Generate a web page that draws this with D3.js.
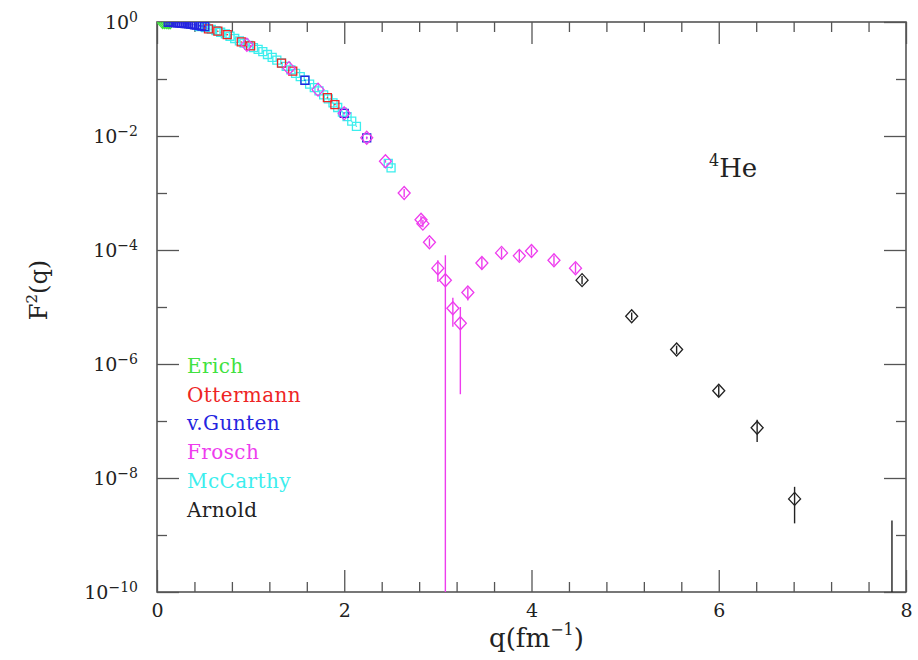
<!DOCTYPE html>
<html>
<head>
<meta charset="utf-8">
<script src="https://cdn.jsdelivr.net/npm/d3@7"></script>
<style>
  body { margin: 0; background: #fff; }
  #chart { width: 918px; height: 660px; }
</style>
</head>
<body>
<div id="chart"></div>
<script>
// q in fm^-1, F^2(q), and error limits
const erichQ  = [0.06, 0.08, 0.10, 0.12, 0.14];
const erichF2 = [1.0, 0.998, 0.995, 0.992, 0.988];

const ottermannQ  = [0.55, 0.65, 0.75, 0.90, 1.00, 1.33, 1.45, 1.82, 1.90];
const ottermannF2 = [0.76, 0.69, 0.60, 0.447, 0.38, 0.19, 0.138, 0.047, 0.0355];

const gunthenQ  = [0.12, 0.14, 0.16, 0.18, 0.20, 0.22, 0.24, 0.26, 0.28, 0.30, 0.32, 0.34, 0.36, 0.38, 0.40, 0.42, 0.45, 0.48, 0.51, 1.58, 2.00, 2.24];
const gunthenF2 = [0.99, 0.99, 0.985, 0.98, 0.975, 0.97, 0.965, 0.96, 0.95, 0.94, 0.935, 0.925, 0.915, 0.905, 0.895, 0.885, 0.865, 0.85, 0.83, 0.095, 0.025, 0.0093];

const froschQ  = [0.96, 1.41, 1.72, 2.00, 2.24, 2.44, 2.64, 2.82, 2.84, 2.91, 3.00, 3.08, 3.16, 3.24, 3.32, 3.47, 3.68, 3.87, 4.00, 4.24, 4.47];
const froschF2 = [0.40, 0.155, 0.065, 0.025, 0.0093, 0.0036, 1.0e-3, 3.4e-4, 2.9e-4, 1.37e-4, 4.8e-5, 2.95e-5, 9.5e-6, 5.2e-6, 1.8e-5, 5.9e-5, 8.9e-5, 7.9e-5, 9.6e-5, 6.6e-5, 4.8e-5];
const froschLo = [0.38, 0.147, 0.062, 0.0238, 0.0088, 0.0034, 0.85e-3, 2.9e-4, 2.5e-4, 1.15e-4, 2.75e-5, 1e-12, 4.5e-6, 2.95e-7, 1.3e-5, 4.6e-5, 7.3e-5, 6.4e-5, 8.0e-5, 5.4e-5, 3.9e-5];
const froschHi = [0.42, 0.163, 0.068, 0.0262, 0.0098, 0.0038, 1.18e-3, 4.0e-4, 3.4e-4, 1.6e-4, 6.6e-5, 8.1e-5, 1.45e-5, 1.0e-5, 2.2e-5, 7.4e-5, 1.08e-4, 9.6e-5, 1.15e-4, 8.0e-5, 5.9e-5];

const mccarthyQ  = [0.45, 0.52, 0.58, 0.63, 0.68, 0.73, 0.78, 0.83, 0.88, 0.93, 0.98, 1.03, 1.08, 1.13, 1.18, 1.23, 1.28, 1.33, 1.38, 1.43, 1.48, 1.53, 1.58, 1.63, 1.68, 1.73, 1.78, 1.83, 1.88, 1.93, 1.98, 2.03, 2.08, 2.13, 2.47, 2.50];
const mccarthyF2 = [0.832, 0.794, 0.741, 0.708, 0.661, 0.617, 0.562, 0.513, 0.468, 0.427, 0.389, 0.355, 0.331, 0.302, 0.269, 0.240, 0.214, 0.191, 0.166, 0.145, 0.126, 0.110, 0.0955, 0.0813, 0.0708, 0.0617, 0.0525, 0.0447, 0.0380, 0.0316, 0.0263, 0.0219, 0.0182, 0.0148, 0.00331, 0.00275];

const arnoldQ  = [4.54, 5.07, 5.55, 6.00, 6.41, 6.81, 7.85];
const arnoldF2 = [2.96e-5, 6.9e-6, 1.8e-6, 3.4e-7, 7.6e-8, 4.3e-9, 1e-12];
const arnoldLo = [2.5e-5, 5.9e-6, 1.5e-6, 2.7e-7, 4.3e-8, 1.6e-9, 1e-12];
const arnoldHi = [3.5e-5, 8.0e-6, 2.1e-6, 4.2e-7, 1.05e-7, 7.0e-9, 1.8e-9];

const seriesNames = ["Erich", "Ottermann", "v.Gunten", "Frosch", "McCarthy", "Arnold"];
const seriesColors = ["#3fe23f", "#ee2424", "#2424e0", "#ee3cee", "#3ceeee", "#222222"];

const xMajorTicks = [0, 2, 4, 6, 8];
const yMajorTicks = [1e0, 1e-2, 1e-4, 1e-6, 1e-8, 1e-10];
const yMinorTicks = [1e-1, 1e-3, 1e-5, 1e-7, 1e-9];

const serif = "'DejaVu Serif', serif";

class FormFactorPlot {
    constructor(parentElement) {
        this.parentElement = parentElement;
        this.render();
    }

    makeSeries(qs, f2s, lo, hi) {
        return qs.map((q, i) => ({q: q, f2: f2s[i], lo: lo ? lo[i] : null, hi: hi ? hi[i] : null}));
    }

    render() {
        let vis = this;

        vis.margin = {top: 22, right: 12, bottom: 68, left: 157};
        vis.width = 918 - vis.margin.left - vis.margin.right;
        vis.height = 660 - vis.margin.top - vis.margin.bottom;

        vis.svg = d3.select("#" + vis.parentElement).append("svg")
            .attr("width", 918)
            .attr("height", 660)
            .append("g")
            .attr("transform", `translate(${vis.margin.left}, ${vis.margin.top})`);

        vis.x = d3.scaleLinear().domain([0, 8]).range([0, vis.width]);
        vis.y = d3.scaleLog().domain([1e-10, 1]).range([vis.height, 0]);

        vis.svg.append("clipPath").attr("id", "plot-clip")
            .append("rect").attr("width", vis.width).attr("height", vis.height);

        // minor x ticks every 0.4
        let xMinor = d3.range(0, 8.01, 0.4).map(d => +d.toFixed(1)).filter(d => !xMajorTicks.includes(d));

        let frameColor = "#555";

        let addAxis = (axis, transform, cls) => {
            let g = vis.svg.append("g").attr("class", "axis " + cls)
                .attr("transform", transform)
                .call(axis);
            g.select(".domain").remove();
            g.selectAll(".tick line").attr("stroke", frameColor).attr("stroke-width", 1.3);
            g.selectAll(".tick text")
                .style("font-family", serif)
                .style("font-size", "19px")
                .attr("fill", "#222");
            return g;
        };

        // bottom
        addAxis(d3.axisBottom(vis.x).tickValues(xMajorTicks).tickSize(-22).tickPadding(12).tickFormat(d3.format("d")),
            `translate(0, ${vis.height})`, "x-axis");
        addAxis(d3.axisBottom(vis.x).tickValues(xMinor).tickSize(-10).tickFormat(""),
            `translate(0, ${vis.height})`, "x-minor");
        // top
        addAxis(d3.axisTop(vis.x).tickValues(xMajorTicks).tickSize(-22).tickFormat(""), "translate(0,0)", "x-top");
        addAxis(d3.axisTop(vis.x).tickValues(xMinor).tickSize(-10).tickFormat(""), "translate(0,0)", "x-top-minor");

        // left
        let yg = addAxis(d3.axisLeft(vis.y).tickValues(yMajorTicks).tickSize(-22).tickPadding(19).tickFormat(""),
            "translate(0,0)", "y-axis");
        yg.selectAll(".tick text").each(function(d) {
            let t = d3.select(this);
            t.text("10");
            let e = Math.round(Math.log10(d));
            t.append("tspan")
                .attr("dy", "-0.5em")
                .style("font-size", "14px")
                .text(e === 0 ? "0" : "\u2212" + Math.abs(e));
        });
        addAxis(d3.axisLeft(vis.y).tickValues(yMinorTicks).tickSize(-10).tickFormat(""), "translate(0,0)", "y-minor");
        // right
        addAxis(d3.axisRight(vis.y).tickValues(yMajorTicks).tickSize(-22).tickFormat(""), `translate(${vis.width},0)`, "y-right");
        addAxis(d3.axisRight(vis.y).tickValues(yMinorTicks).tickSize(-10).tickFormat(""), `translate(${vis.width},0)`, "y-right-minor");

        vis.svg.append("rect")
            .attr("width", vis.width)
            .attr("height", vis.height)
            .attr("fill", "none")
            .attr("stroke", frameColor)
            .attr("stroke-width", 1.6);

        let plot = vis.svg.append("g").attr("clip-path", "url(#plot-clip)");

        let allSeries = [
            {name: "McCarthy", shape: "square", data: vis.makeSeries(mccarthyQ, mccarthyF2)},
            {name: "Ottermann", shape: "square", data: vis.makeSeries(ottermannQ, ottermannF2)},
            {name: "Erich", shape: "diamond", data: vis.makeSeries(erichQ, erichF2)},
            {name: "v.Gunten", shape: "square", data: vis.makeSeries(gunthenQ, gunthenF2)},
            {name: "Frosch", shape: "diamond", data: vis.makeSeries(froschQ, froschF2, froschLo, froschHi)},
            {name: "Arnold", shape: "diamond", data: vis.makeSeries(arnoldQ, arnoldF2, arnoldLo, arnoldHi)}
        ];

        allSeries.forEach(s => {
            let color = seriesColors[seriesNames.indexOf(s.name)];
            let g = plot.append("g").attr("class", "series-" + s.name.replace(".", ""));

            // error bars
            g.selectAll(".err")
                .data(s.data.filter(d => d.lo !== null))
                .enter().append("line")
                .attr("class", "err")
                .attr("x1", d => vis.x(d.q))
                .attr("x2", d => vis.x(d.q))
                .attr("y1", d => Math.min(vis.y(d.lo), vis.height + 5))
                .attr("y2", d => vis.y(d.hi))
                .attr("stroke", color)
                .attr("stroke-width", 1.4);

            let path = s.shape === "diamond"
                ? "M0,-6.5L6,0L0,6.5L-6,0Z"
                : "M-4,-4L4,-4L4,4L-4,4Z";

            g.selectAll(".mark")
                .data(s.data.filter(d => d.f2 >= 1e-10))
                .enter().append("path")
                .attr("class", "mark")
                .attr("d", path)
                .attr("transform", d => `translate(${vis.x(d.q)}, ${vis.y(d.f2)})`)
                .attr("fill", "none")
                .attr("stroke", color)
                .attr("stroke-width", 1.3);

            if (s.shape === "square") {
                g.selectAll(".dot")
                    .data(s.data)
                    .enter().append("circle")
                    .attr("cx", d => vis.x(d.q))
                    .attr("cy", d => vis.y(d.f2))
                    .attr("r", 0.8)
                    .attr("fill", color);
            }
        });

        // legend
        vis.svg.selectAll(".legend-text")
            .data(seriesNames)
            .enter().append("text")
            .attr("class", "legend-text")
            .attr("x", 30)
            .attr("y", (d, i) => 351 + i * 28.7)
            .style("font-family", serif)
            .style("font-size", "20px")
            .style("letter-spacing", "0.4px")
            .attr("fill", (d, i) => seriesColors[i])
            .text(d => d);

        // nucleus label
        let he = vis.svg.append("text")
            .attr("x", 552)
            .attr("y", 155)
            .style("font-family", serif)
            .style("font-size", "26px")
            .attr("fill", "#222");
        he.append("tspan").style("font-size", "16px").attr("dy", "-11").text("4");
        he.append("tspan").attr("dy", "11").text("He");

        // axis titles
        let xt = vis.svg.append("text")
            .attr("x", vis.width / 2 + 5)
            .attr("y", vis.height + 55)
            .attr("text-anchor", "middle")
            .style("font-family", serif)
            .style("font-size", "26px")
            .attr("fill", "#222");
        xt.append("tspan").text("q(fm");
        xt.append("tspan").style("font-size", "16px").attr("dy", "-12").text("\u22121");
        xt.append("tspan").attr("dy", "12").text(")");

        let yt = vis.svg.append("text")
            .attr("transform", `translate(${-110}, ${vis.height / 2 - 17}) rotate(-90)`)
            .attr("text-anchor", "middle")
            .style("font-family", serif)
            .style("font-size", "24px")
            .attr("fill", "#222");
        yt.append("tspan").text("F");
        yt.append("tspan").style("font-size", "15px").attr("dy", "-10").text("2");
        yt.append("tspan").attr("dy", "10").text("(q)");
    }
}

new FormFactorPlot("chart");
</script>
</body>
</html>
